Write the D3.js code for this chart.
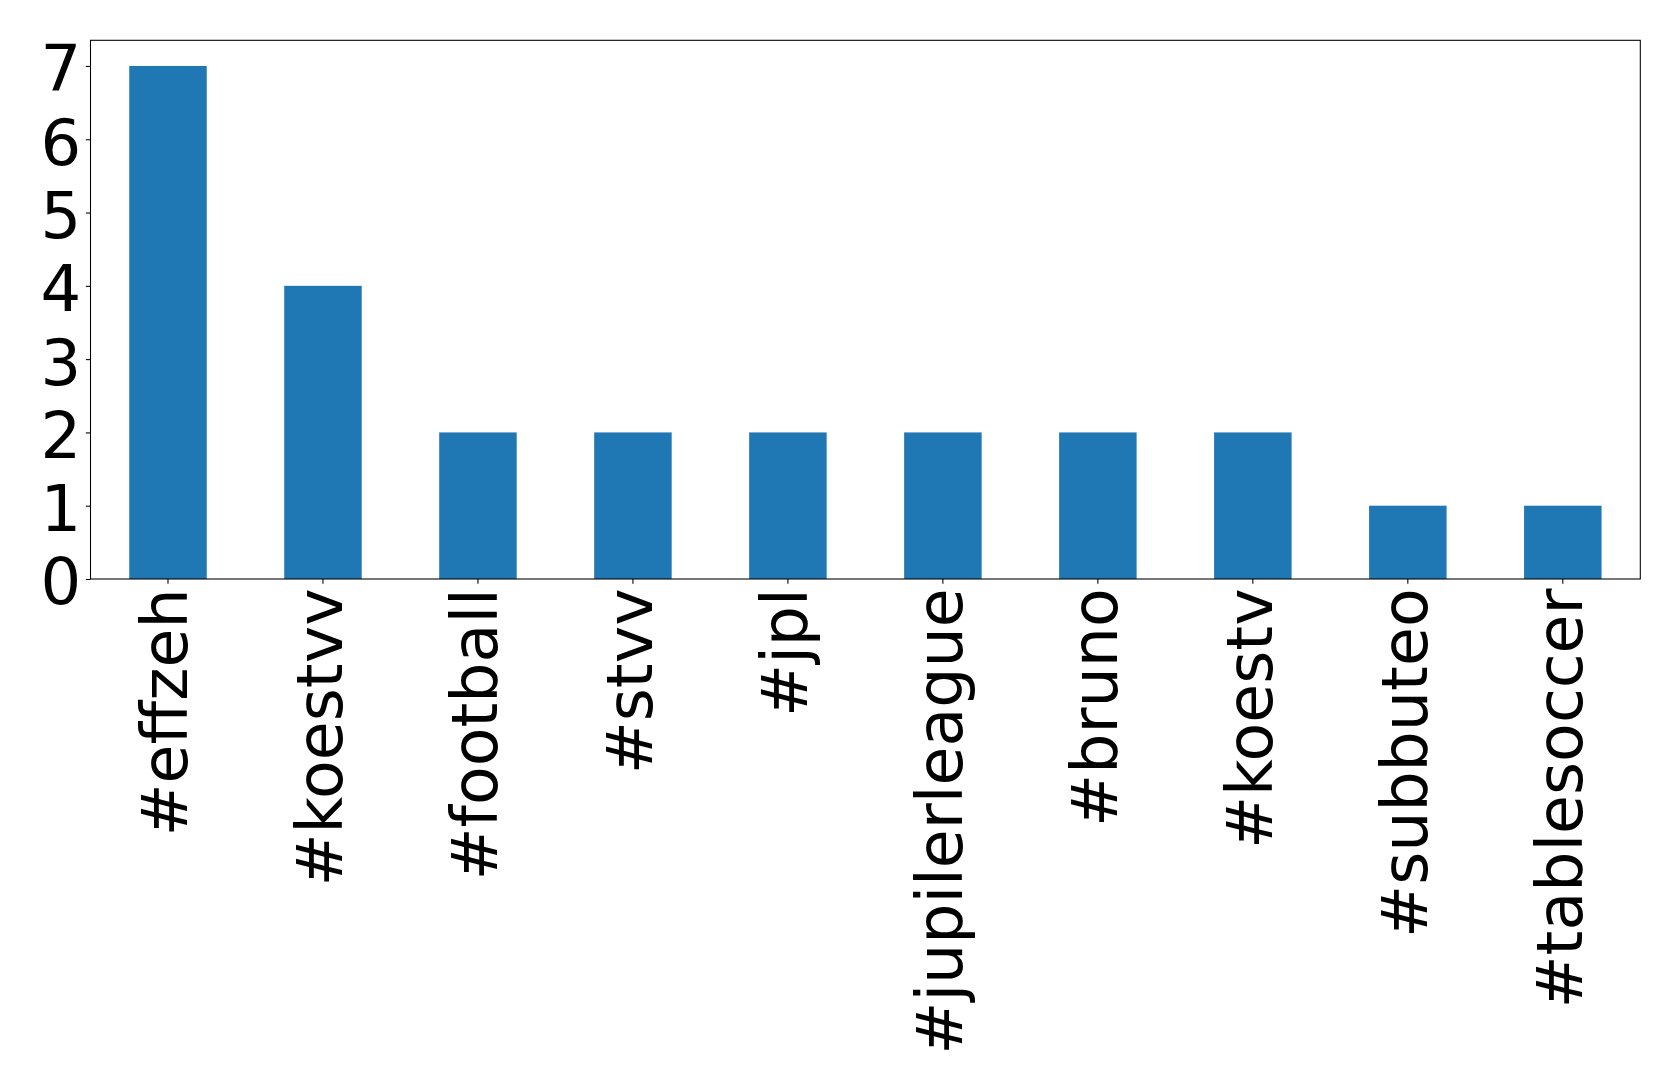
<!DOCTYPE html>
<html><head><meta charset="utf-8">
<script src="https://cdn.jsdelivr.net/npm/d3@7"></script>
<style>html,body{margin:0;padding:0;background:#fff;}svg{display:block;}</style>
</head><body>
<script>
const categories = ["#effzeh","#koestvv","#football","#stvv","#jpl","#jupilerleague","#bruno","#koestv","#subbuteo","#tablesoccer"];
const values = [7,4,2,2,2,2,2,2,1,1];
const yTicks = [0,1,2,3,4,5,6,7];

const W = 1679, H = 1088;
const m = {left: 90.5, top: 40.3, right: 1640.3, bottom: 579};
const svg = d3.select("body").append("svg").attr("width", W).attr("height", H);

const x = d3.scaleBand().domain(categories).range([m.left, m.right]).paddingInner(0.5).paddingOuter(0.25);
const y = d3.scaleLinear().domain([0, 7.35]).range([m.bottom, m.top]);

svg.append("g").selectAll("rect").data(values).join("rect")
  .attr("x", (d,i) => x(categories[i]))
  .attr("width", x.bandwidth())
  .attr("y", d => y(d))
  .attr("height", d => y(0) - y(d))
  .attr("fill", "#1f77b4");

const font = "'DejaVu Sans', sans-serif";
const yAxis = svg.append("g").attr("transform", `translate(${m.left},0)`)
  .call(d3.axisLeft(y).tickValues(yTicks).tickSize(4.67).tickPadding(4.67).tickFormat(d3.format("d")));
yAxis.select(".domain").remove();
yAxis.selectAll("line").attr("stroke", "#000").attr("stroke-width", 1.07);
yAxis.selectAll("text").attr("font-family", font).attr("font-size", 64).attr("fill", "#000").attr("dy", "0.39em");

const xAxis = svg.append("g").attr("transform", `translate(0,${m.bottom})`)
  .call(d3.axisBottom(x).tickSize(4.67).tickPadding(4.67));
xAxis.select(".domain").remove();
xAxis.selectAll("line").attr("stroke", "#000").attr("stroke-width", 1.07);
xAxis.selectAll("text")
  .attr("font-family", font).attr("font-size", 63.4).attr("fill", "#000")
  .attr("text-anchor", "end")
  .attr("transform", "rotate(-90)")
  .attr("x", -9.34).attr("y", 0).attr("dy", "0.3em");

svg.append("rect").attr("x", m.left).attr("y", m.top)
  .attr("width", m.right - m.left).attr("height", m.bottom - m.top)
  .attr("fill", "none").attr("stroke", "#000").attr("stroke-width", 1.07);
</script>
</body></html>
